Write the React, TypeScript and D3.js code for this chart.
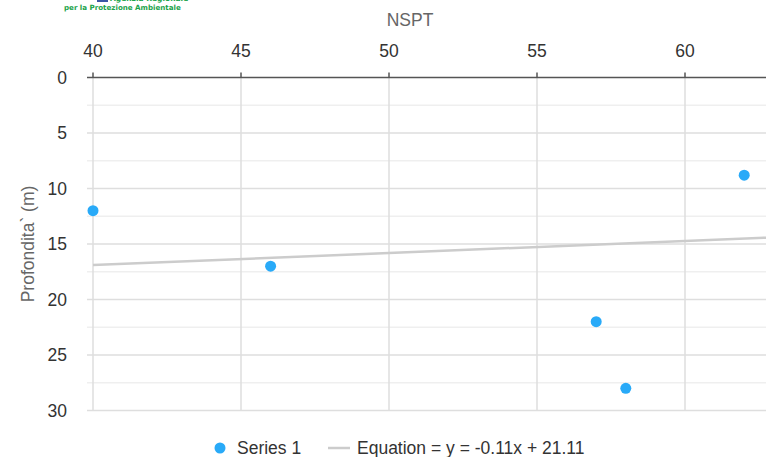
import React from "react";
import * as d3 from "d3";

const W = 766;
const H = 457;

const xTicks = [40, 45, 50, 55, 60];
const yTicks = [0, 5, 10, 15, 20, 25, 30];
const yMinorTicks = [2.5, 7.5, 12.5, 17.5, 22.5, 27.5];

const nspt = [40, 46, 57, 58, 62];
const depth = [12, 17, 22, 28, 8.8];

const trendX = [40, 63];
const trendY = [16.9, 14.4];

const seriesName = "Series 1";
const trendName = "Equation = y = -0.11x + 21.11";
const xTitle = "NSPT";
const yTitle = "Profondita` (m)";

const FONT = "'Liberation Sans', Arial, Helvetica, sans-serif";

export default function App() {
  const x = d3.scaleLinear().domain([40, 60]).range([93, 685]);
  const y = d3.scaleLinear().domain([0, 30]).range([77.5, 410.5]);
  const left = 87;
  const right = W;

  const line = d3
    .line<number>()
    .x((_, i) => x(trendX[i]))
    .y((d) => y(d));

  return (
    <svg
      width={W}
      height={H}
      style={{ position: "absolute", left: 0, top: 0, background: "#fff" }}
      fontFamily={FONT}
    >
      <defs>
        <clipPath id="plot">
          <rect x={0} y={0} width={W} height={H} />
        </clipPath>
      </defs>
      {/* logo fragment */}
      <rect x={97} y={-3} width={11} height={5} fill="#3b55a5" />
      <text x={110} y={0.5} fontSize={7.5} fontWeight="bold" fill="#1aa34a" fontFamily="'DejaVu Sans', sans-serif">
        Agenzia Regionale
      </text>
      <text x={64} y={9.5} fontSize={7.1} fontWeight="bold" fill="#1aa34a" fontFamily="'DejaVu Sans', sans-serif">
        per la Protezione Ambientale
      </text>

      {/* x title */}
      <text x={410} y={26} fontSize={17.5} fill="#666" textAnchor="middle">
        {xTitle}
      </text>

      {/* minor gridlines */}
      {yMinorTicks.map((t) => (
        <line key={"m" + t} x1={left} x2={right} y1={y(t)} y2={y(t)} stroke="#efefef" strokeWidth={1.5} />
      ))}
      {/* major horizontal gridlines */}
      {yTicks.slice(1).map((t) => (
        <line key={"h" + t} x1={left} x2={right} y1={y(t)} y2={y(t)} stroke="#dedede" strokeWidth={1.5} />
      ))}
      {/* vertical gridlines */}
      {xTicks.map((t) => (
        <line key={"v" + t} x1={x(t)} x2={x(t)} y1={y(0)} y2={y(30)} stroke="#dedede" strokeWidth={1.5} />
      ))}

      {/* top axis */}
      <line x1={left} x2={right} y1={y(0)} y2={y(0)} stroke="#555" strokeWidth={1.5} />
      {xTicks.map((t) => (
        <g key={"xt" + t}>
          <line x1={x(t)} x2={x(t)} y1={y(0) - 5} y2={y(0)} stroke="#555" strokeWidth={1.5} />
          <text x={x(t)} y={57} fontSize={17.5} fill="#333" textAnchor="middle">
            {t}
          </text>
        </g>
      ))}

      {/* y ticks */}
      {yTicks.map((t) => (
        <text key={"yt" + t} x={67} y={y(t) + 6} fontSize={17.5} fill="#333" textAnchor="end">
          {t}
        </text>
      ))}

      {/* y title */}
      <text
        transform={`translate(34, ${(y(0) + y(30)) / 2}) rotate(-90)`}
        fontSize={17.5}
        fill="#666"
        textAnchor="middle"
      >
        {yTitle}
      </text>

      {/* trend line */}
      <path d={line(trendY) || ""} fill="none" stroke="#cccccc" strokeWidth={2.5} clipPath="url(#plot)" />

      {/* points */}
      {nspt.map((v, i) => (
        <circle key={"p" + i} cx={x(v)} cy={y(depth[i])} r={5.5} fill="#29aaf8" />
      ))}

      {/* legend */}
      <circle cx={220} cy={448} r={5.5} fill="#29aaf8" />
      <text x={237} y={454} fontSize={17.5} fill="#333">
        {seriesName}
      </text>
      <line x1={328} x2={350} y1={448} y2={448} stroke="#cccccc" strokeWidth={2.5} />
      <text x={357} y={454} fontSize={17.5} fill="#333">
        {trendName}
      </text>
    </svg>
  );
}
